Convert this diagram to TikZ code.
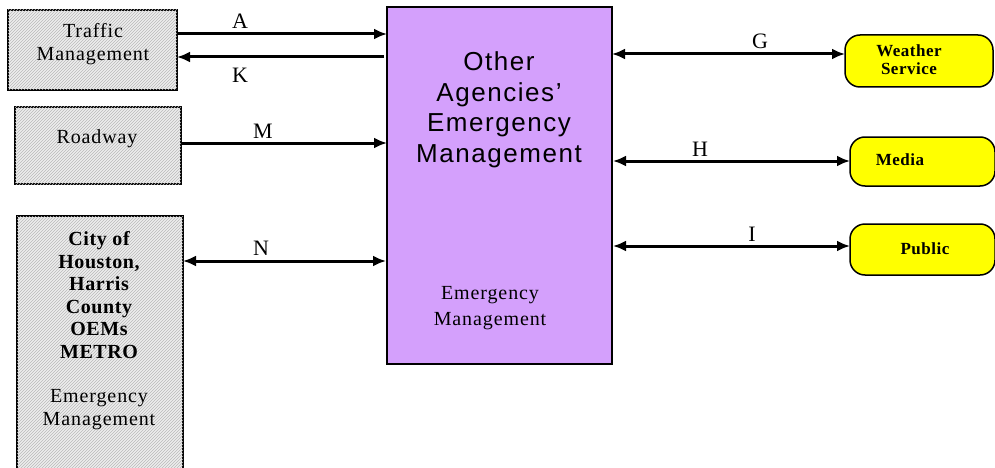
\documentclass[tikz,border=0pt]{standalone}
\usepackage{fontspec}
\setmainfont{Liberation Serif}
\setsansfont{Liberation Sans}
\newfontfamily\wideserif[LetterSpace=4.5]{Liberation Serif}
\newfontfamily\midserif[LetterSpace=3]{Liberation Serif}
\newfontfamily\widesans[LetterSpace=6]{Liberation Sans}
\usetikzlibrary{arrows.meta,patterns}
\definecolor{hatchgray}{RGB}{238,238,238}
\definecolor{hatchline}{RGB}{185,185,185}
\definecolor{lilac}{RGB}{212,160,252}
\definecolor{signal}{RGB}{255,255,0}
\tikzset{
  hatched/.style={draw=black, line width=1.5pt, fill=hatchgray,
    postaction={pattern=north east lines, pattern color=hatchline}},
  center/.style={draw=black, line width=1.5pt, fill=lilac},
  outside/.style={draw=black, line width=1.5pt, fill=signal, rounded corners=15pt},
  tip/.tip={Latex[length=13pt,width=11pt]},
  flow/.style={line width=3pt, -tip},
  flowboth/.style={line width=3pt, tip-tip},
  lbl/.style={font=\fontsize{22}{24}\selectfont, inner sep=0pt},
  body/.style={align=center, font=\wideserif\fontsize{20}{23}\selectfont, inner sep=0pt},
  bodybold/.style={align=center, font=\midserif\fontsize{20}{22.6}\selectfont\bfseries, inner sep=0pt},
  ext/.style={align=center, font=\midserif\fontsize{17}{18}\selectfont\bfseries, inner sep=0pt},
}
\begin{document}
\begin{tikzpicture}[x=1pt, y=-1pt]
\useasboundingbox (0,0) rectangle (995,468);

% boxes on the left
\draw[hatched] (8,10) rectangle (177,90);
\node[body] (tm) at (93,44) {Traffic\\Management};

\draw[hatched] (15,107) rectangle (181,184);
\node[body] (rw) at (97,139) {Roadway};

\draw[hatched] (17,216) rectangle (183,480);
\node[bodybold] (city) at (99,295) {City of\\Houston,\\Harris\\County\\OEMs\\METRO};
\node[body] (cityem) at (99,410) {Emergency\\Management};

% central box
\draw[center] (387,7) rectangle (612,364);
\node[align=center, font=\widesans\fontsize{26}{30.5}\selectfont, inner sep=0pt] (oa) at (499,110)
  {Other\\Agencies’\\Emergency\\Management};
\node[body, font=\wideserif\fontsize{20}{26}\selectfont] (oaem) at (490,308) {Emergency\\Management};

% external entities on the right
\draw[outside] (845,35) rectangle (993,87);
\node[ext] (ws) at (909,60) {Weather\\Service};
\draw[outside] (850,137) rectangle (995,186);
\node[ext] (md) at (900,160) {Media};
\draw[outside] (850,224) rectangle (995,275);
\node[ext] (pb) at (925,249) {Public};

% connectors
\coordinate (a1) at (177,34);  \coordinate (a2) at (387,34);
\coordinate (k1) at (384,57);  \coordinate (k2) at (177,57);
\coordinate (m1) at (181,143); \coordinate (m2) at (387,143);
\coordinate (n1) at (183,261); \coordinate (n2) at (386,261);
\coordinate (g1) at (612,54);  \coordinate (g2) at (845,54);
\coordinate (h1) at (613,161); \coordinate (h2) at (850,161);
\coordinate (i1) at (613,246); \coordinate (i2) at (850,246);

\draw[flow] (a1) -- (a2);
\draw[flow] (k1) -- (k2);
\draw[flow] (m1) -- (m2);
\draw[flowboth] (n1) -- (n2);
\draw[flowboth] (g1) -- (g2);
\draw[flowboth] (h1) -- (h2);
\draw[flowboth] (i1) -- (i2);

\node[lbl] (la) at (240,21) {A};
\node[lbl] (lk) at (240,75) {K};
\node[lbl] (lm) at (263,131) {M};
\node[lbl] (ln) at (261,248) {N};
\node[lbl] (lg) at (760,41) {G};
\node[lbl] (lh) at (700,149) {H};
\node[lbl] (li) at (752,234) {I};
\end{tikzpicture}
\end{document}
